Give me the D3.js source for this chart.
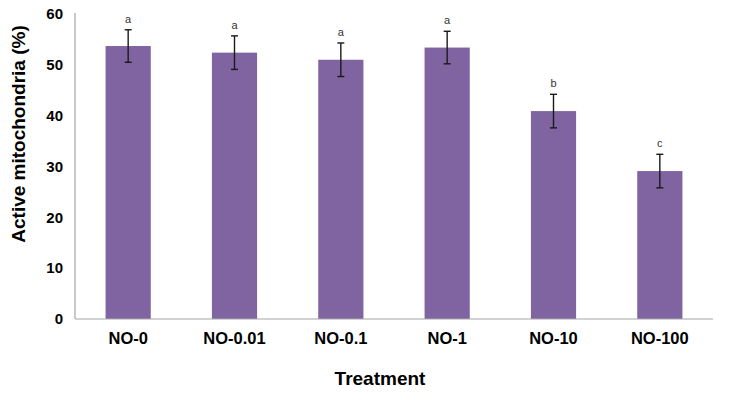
<!DOCTYPE html>
<html>
<head>
<meta charset="utf-8">
<script src="https://cdn.jsdelivr.net/npm/d3@7"></script>
<style>
  html, body { margin: 0; padding: 0; background: #fff; }
  svg { display: block; }
</style>
</head>
<body>
<svg id="chart" width="733" height="400"></svg>
<script>
const categories = ["NO-0", "NO-0.01", "NO-0.1", "NO-1", "NO-10", "NO-100"];
const values = [53.7, 52.4, 51.0, 53.4, 40.9, 29.1];
const errors = [3.2, 3.3, 3.3, 3.2, 3.3, 3.3];
const letters = ["a", "a", "a", "a", "b", "c"];
const yTicks = [0, 10, 20, 30, 40, 50, 60];

(function () {
const svg = d3.select("#chart");
const mLeft = 75, mRight = 713, mTop = 14, mBottom = 319;

const x = d3.scaleBand().domain(categories).range([mLeft, mRight]).padding(0);
const y = d3.scaleLinear().domain([0, 60]).range([mBottom, mTop]);
const barW = x.bandwidth() * 0.425;

// bars
svg.selectAll("rect.bar").data(categories).join("rect")
  .attr("class", "bar")
  .attr("x", d => x(d) + x.bandwidth() / 2 - barW / 2)
  .attr("width", barW)
  .attr("y", (d, i) => y(values[i]))
  .attr("height", (d, i) => y(0) - y(values[i]))
  .attr("fill", "#8064A2");

// error bars
const eg = svg.append("g").attr("stroke", "#1a1a1a").attr("stroke-width", 1.4);
categories.forEach((c, i) => {
  const cx = x(c) + x.bandwidth() / 2;
  const y1 = y(values[i] + errors[i]), y2 = y(values[i] - errors[i]);
  eg.append("line").attr("x1", cx).attr("x2", cx).attr("y1", y1).attr("y2", y2);
  eg.append("line").attr("x1", cx - 3.5).attr("x2", cx + 3.5).attr("y1", y1).attr("y2", y1);
  eg.append("line").attr("x1", cx - 3.5).attr("x2", cx + 3.5).attr("y1", y2).attr("y2", y2);
  svg.append("text")
    .attr("x", cx).attr("y", y1 - 7)
    .attr("text-anchor", "middle")
    .attr("font-family", "Liberation Sans, Arial, sans-serif")
    .attr("font-size", 11)
    .attr("fill", "#333")
    .text(letters[i]);
});

// y axis
const yAxis = svg.append("g").attr("transform", `translate(${mLeft},0)`)
  .call(d3.axisLeft(y).tickValues(yTicks).tickSize(0).tickPadding(12));
yAxis.select(".domain").attr("stroke", "#a6a6a6").attr("stroke-width", 1.2)
  .attr("d", `M0,${mBottom}V${mTop - 1}`);
yAxis.selectAll("text")
  .attr("font-family", "Liberation Sans, Arial, sans-serif")
  .attr("font-weight", "bold").attr("font-size", 15).attr("fill", "#000");

// x axis
const xAxis = svg.append("g").attr("transform", `translate(0,${mBottom})`)
  .call(d3.axisBottom(x).tickSize(0).tickPadding(13));
xAxis.select(".domain").attr("stroke", "#a6a6a6").attr("stroke-width", 1.2)
  .attr("d", `M${mLeft},0H${mRight}`);
xAxis.selectAll("text")
  .attr("font-family", "Liberation Sans, Arial, sans-serif")
  .attr("font-weight", "bold").attr("font-size", 16.5).attr("fill", "#000");

// titles
svg.append("text")
  .attr("x", 380).attr("y", 385)
  .attr("text-anchor", "middle")
  .attr("font-family", "Liberation Sans, Arial, sans-serif")
  .attr("font-weight", "bold").attr("font-size", 19)
  .text("Treatment");

svg.append("text")
  .attr("transform", "translate(25,134) rotate(-90)")
  .attr("text-anchor", "middle")
  .attr("font-family", "Liberation Sans, Arial, sans-serif")
  .attr("font-weight", "bold").attr("font-size", 19)
  .text("Active mitochondria (%)");
})();
</script>
</body>
</html>
